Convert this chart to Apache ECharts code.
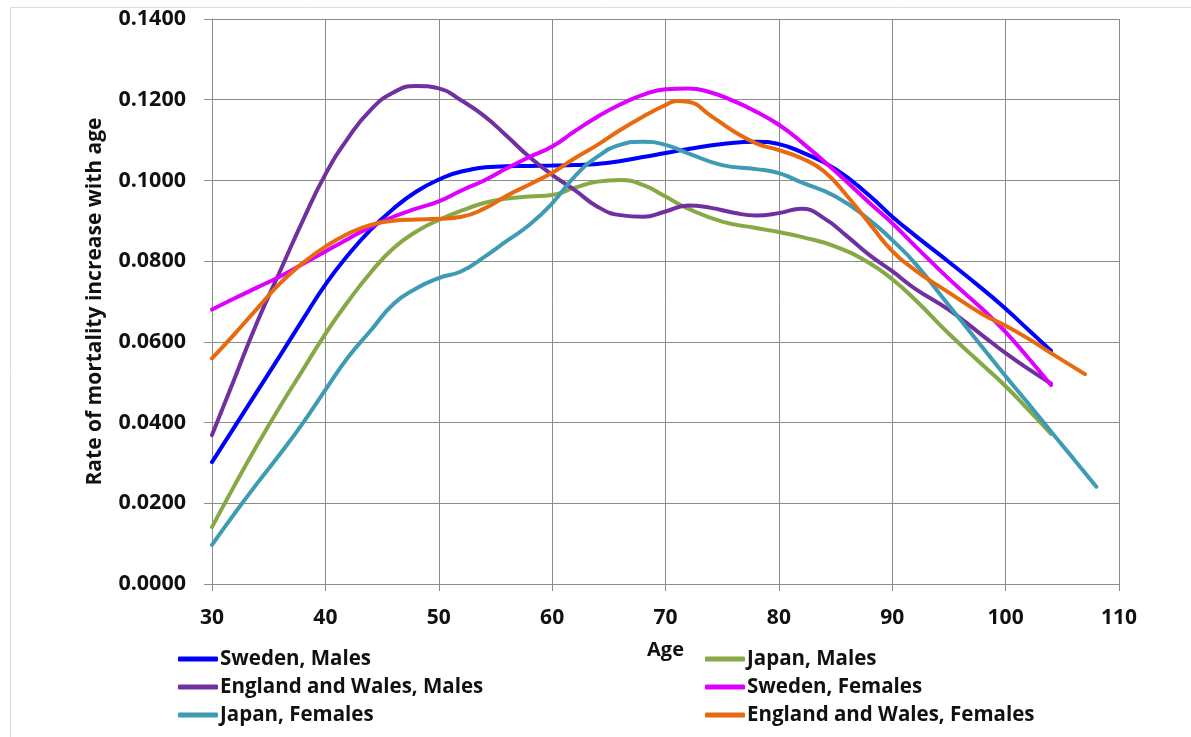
<!DOCTYPE html>
<html>
<head>
<meta charset="utf-8">
<script src="https://cdn.jsdelivr.net/npm/echarts@6/dist/echarts.min.js"></script>
<style>html,body{margin:0;padding:0;background:#fff;}#c{width:1191px;height:737px;}</style>
</head>
<body>
<div id="c"></div>
<script>
// Tick labels
const xTicks = [30, 40, 50, 60, 70, 80, 90, 100, 110];
const yTicks = [0, 0.02, 0.04, 0.06, 0.08, 0.10, 0.12, 0.14];

// Sweden, Males
const swMaleAges = [30,32,34,36,38,40,42,44,46,48,50,52,55,58,60,62,65,68,70,72,75,78,80,82,85,88,90,92,95,98,100,102,104];
const swMaleVals = [0.0302,0.0390,0.0478,0.0566,0.0655,0.0742,0.0815,0.0878,0.0930,0.0972,0.1002,0.1022,0.1034,0.1036,0.1037,0.1038,0.1044,0.1058,0.1068,0.1078,0.1090,0.1096,0.1090,0.1070,0.1028,0.0962,0.0910,0.0864,0.0798,0.0730,0.0682,0.0630,0.0578];

// Japan, Males
const jpMaleAges = [30,32,34,36,38,40,42,44,46,48,50,52,54,56,58,60,62,64,66,68,70,72,75,78,80,82,85,88,90,92,95,98,100,102,104];
const jpMaleVals = [0.0141,0.0245,0.0345,0.0440,0.0530,0.0620,0.0700,0.0772,0.0832,0.0873,0.0902,0.0925,0.0944,0.0955,0.0960,0.0964,0.0982,0.0997,0.1001,0.0989,0.0960,0.0930,0.0898,0.0882,0.0872,0.0860,0.0836,0.0795,0.0755,0.0705,0.0620,0.0542,0.0490,0.0432,0.0372];

// England and Wales, Males
const ewMaleAges = [30,32,34,36,38,40,42,44,46,48,50,52,54,56,58,60,62,64,66,68,70,72,74,76,78,80,82,84,86,88,90,92,95,98,100,102,104];
const ewMaleVals = [0.0369,0.0510,0.0650,0.0775,0.0900,0.1015,0.1105,0.1175,0.1218,0.1234,0.1228,0.1198,0.1160,0.1110,0.1058,0.1014,0.0976,0.0935,0.0914,0.0910,0.0923,0.0938,0.0932,0.0920,0.0913,0.0919,0.0930,0.0906,0.0862,0.0815,0.0775,0.0732,0.0679,0.0615,0.0572,0.0533,0.0497];

// Sweden, Females
const swFemAges = [30,32,34,36,38,40,42,44,46,48,50,52,54,56,58,60,62,64,66,68,70,72,74,76,78,80,82,85,88,90,92,95,98,100,102,104];
const swFemVals = [0.0680,0.0708,0.0735,0.0762,0.0793,0.0824,0.0855,0.0885,0.0910,0.0930,0.0948,0.0975,0.1000,0.1030,0.1058,0.1084,0.1122,0.1158,0.1188,0.1212,0.1226,0.1228,0.1218,0.1197,0.1170,0.1138,0.1095,0.1022,0.0944,0.0894,0.0838,0.0756,0.0680,0.0624,0.0560,0.0493];

// Japan, Females
const jpFemAges = [30,32,34,36,38,40,42,44,46,48,50,52,54,56,58,60,62,64,66,68,70,72,75,78,80,82,85,88,90,92,95,98,100,102,104,106,108];
const jpFemVals = [0.0097,0.0175,0.0250,0.0322,0.0398,0.0481,0.0562,0.0628,0.0694,0.0732,0.0758,0.0775,0.0810,0.0850,0.0890,0.0943,0.1010,0.1059,0.1088,0.1096,0.1088,0.1067,0.1038,0.1028,0.1018,0.0995,0.0960,0.0902,0.0852,0.0795,0.0690,0.0585,0.0515,0.0447,0.0378,0.0310,0.0241];

// England and Wales, Females
const ewFemAges = [30,32,34,36,38,40,42,44,46,48,50,52,54,56,58,60,62,64,66,68,70,71,72,74,76,78,80,82,84,86,88,90,92,95,98,100,102,104,107];
const ewFemVals = [0.0559,0.0620,0.0683,0.0745,0.0795,0.0836,0.0868,0.0890,0.0900,0.0903,0.0905,0.0910,0.0930,0.0962,0.0990,0.1019,0.1055,0.1088,0.1125,0.1158,0.1187,0.1197,0.1195,0.1160,0.1122,0.1092,0.1075,0.1055,0.1022,0.0962,0.0893,0.0825,0.0778,0.0722,0.0668,0.0640,0.0608,0.0572,0.0520];

const names = ['Sweden, Males','Japan, Males','England and Wales, Males','Sweden, Females','Japan, Females','England and Wales, Females'];
const colors = ['#0000FF','#86A845','#7030A0','#DD00FF','#3D9BB3','#E8690E'];
const ageSets = [swMaleAges, jpMaleAges, ewMaleAges, swFemAges, jpFemAges, ewFemAges];
const valSets = [swMaleVals, jpMaleVals, ewMaleVals, swFemVals, jpFemVals, ewFemVals];

const FONT = 'Open Sans';
const gridColor = '#8c8c8c';

const series = names.map((n, i) => ({
  name: n,
  type: 'line',
  smooth: 0.5,
  symbol: 'none',
  lineStyle: { width: 4, color: colors[i], cap: 'round' },
  itemStyle: { color: colors[i] },
  data: ageSets[i].map((a, j) => [a, valSets[i][j]])
}));

const legendCommon = {
  orient: 'vertical',
  icon: 'roundRect',
  itemWidth: 40,
  itemHeight: 5,
  itemGap: 0,
  textStyle: { fontFamily: FONT, fontWeight: 'bold', fontSize: 20.5, color: '#111', lineHeight: 28, padding: [0,0,0,-3] },
  padding: 0
};

const chart = echarts.init(document.getElementById('c'), null, { renderer: 'canvas' });
chart.setOption({
  animation: false,
  backgroundColor: '#fff',
  color: colors,
  graphic: [{
    type: 'rect', silent: true,
    shape: { x: 10.5, y: 7.5, width: 1300, height: 900 },
    style: { fill: 'none', stroke: '#dcdcdc', lineWidth: 1 }
  }],
  grid: { left: 212, right: 72, top: 19, bottom: 153, containLabel: false },
  legend: [
    Object.assign({}, legendCommon, { left: 178, top: 645, data: [names[0], names[2], names[4]] }),
    Object.assign({}, legendCommon, { left: 705, top: 645, data: [names[1], names[3], names[5]] })
  ],
  xAxis: {
    type: 'value', min: 30, max: 110, interval: 10,
    name: 'Age', nameLocation: 'middle', nameGap: 56,
    nameTextStyle: { fontFamily: FONT, fontWeight: 'bold', fontSize: 20, color: '#111' },
    axisLine: { show: true, lineStyle: { color: gridColor, width: 1 } },
    axisTick: { show: true, length: 7, inside: false, lineStyle: { color: gridColor } },
    axisLabel: { fontFamily: FONT, fontWeight: 'bold', fontSize: 21, color: '#111', margin: 24,
      formatter: v => xTicks.includes(v) ? String(v) : '' },
    splitLine: { show: true, lineStyle: { color: gridColor, width: 1 } }
  },
  yAxis: {
    type: 'value', min: 0, max: 0.14, interval: 0.02,
    name: 'Rate of mortality increase with age', nameLocation: 'middle', nameGap: 106, nameRotate: 90,
    nameTextStyle: { fontFamily: FONT, fontWeight: 'bold', fontSize: 21, color: '#111' },
    axisLine: { show: true, lineStyle: { color: gridColor, width: 1 } },
    axisTick: { show: true, length: 8, inside: false, lineStyle: { color: gridColor } },
    axisLabel: { fontFamily: FONT, fontWeight: 'bold', fontSize: 21.5, color: '#111', margin: 26,
      formatter: v => { const t = yTicks.find(k => Math.abs(k - v) < 1e-9); return t === undefined ? '' : t.toFixed(4); } },
    splitLine: { show: true, lineStyle: { color: gridColor, width: 1 } }
  },
  series: series
});
</script>
</body>
</html>
